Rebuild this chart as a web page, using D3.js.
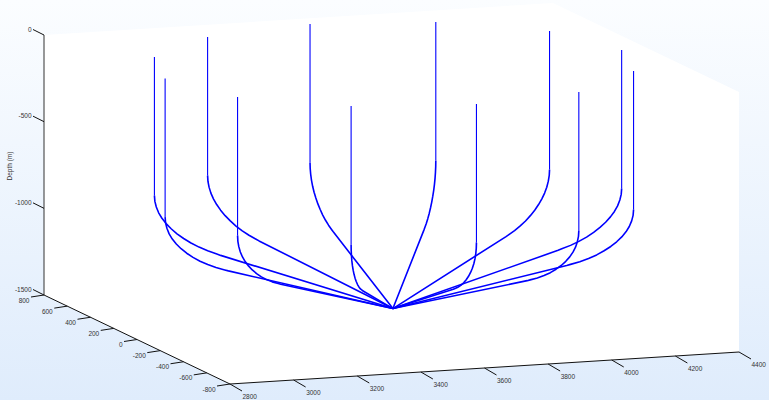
<!DOCTYPE html>
<html>
<head>
<meta charset="utf-8">
<script src="https://cdnjs.cloudflare.com/ajax/libs/d3/7.8.5/d3.min.js"></script>
<style>html,body{margin:0;padding:0;background:#fff}svg{display:block}</style>
</head>
<body>
<svg id="c" width="769" height="400"></svg>
<script>
// Data
const wellX = [2979, 2884, 3243, 2978, 3603, 3241, 3964, 3601, 4228, 3955, 4318, 4229];
const wellY = [340, -12, 605, -378, 709, -635, 615, -728, 359, -640, -15, -361];
const targetX = 3600, targetY = -12, targetZ = -1410, reach = 720;
const profileDepart = [0, 0, 1.4, 5.7, 12.8, 22.7, 35.3, 50.5, 68.2, 88.2, 110.4, 134.7, 160.8, 188.5, 200, 720];
const profileDepth = [0, -800, -833, -865, -898, -929, -959, -988, -1016, -1042, -1067, -1089, -1109, -1126, -1133, -1410];
const xTicks = [2800, 3000, 3200, 3400, 3600, 3800, 4000, 4200, 4400];
const yTicks = [800, 600, 400, 200, 0, -200, -400, -600, -800];
const zTicks = [0, -500, -1000, -1500];
const zLabel = "Depth (m)";

// Projection from three linear scales
const xToSx = d3.scaleLinear().domain([2800, 4400]).range([0, 509]);
const xToSy = d3.scaleLinear().domain([2800, 4400]).range([0, -32]);
const yToSx = d3.scaleLinear().domain([-800, 800]).range([230, 44]);
const yToSy = d3.scaleLinear().domain([-800, 800]).range([384, 295]);
const zToSy = d3.scaleLinear().domain([-1500, 0]).range([0, -260]);
const px = (X, Y) => xToSx(X) + yToSx(Y);
const py = (X, Y, Z) => xToSy(X) + yToSy(Y) + zToSy(Z);

const svg = d3.select("#c");
const defs = svg.append("defs");
const grad = defs.append("linearGradient").attr("id", "bg").attr("x1", 0).attr("y1", 0).attr("x2", 0).attr("y2", 1);
grad.append("stop").attr("offset", "0%").attr("stop-color", "#fbfdff");
grad.append("stop").attr("offset", "100%").attr("stop-color", "#dfecfc");
svg.append("rect").attr("width", 769).attr("height", 400).attr("fill", "url(#bg)");

// White box silhouette
const xMin = 2800, xMax = 4400, yMin = -800, yMax = 800, zMin = -1500, zMax = 0;
const pane = [
  [xMin, yMax, zMax], [xMax, yMax, zMax], [xMax, yMin, zMax],
  [xMax, yMin, zMin], [xMin, yMin, zMin], [xMin, yMax, zMin]
];
svg.append("polygon")
  .attr("points", pane.map(p => [px(p[0], p[1]), py(p[0], p[1], p[2])].join(",")).join(" "))
  .attr("fill", "#fff");

// Wells
const line = d3.line().x(d => d[0]).y(d => d[1]);
const wells = svg.append("g").attr("fill", "none").attr("stroke", "#0000ff").attr("stroke-linejoin", "round");
wellX.forEach((wx, i) => {
  const wy = wellY[i];
  const pts = profileDepart.map((h, k) => {
    const f = h / reach;
    const X = wx + (targetX - wx) * f;
    const Y = wy + (targetY - wy) * f;
    return [px(X, Y), py(X, Y, profileDepth[k])];
  });
  wells.append("path").attr("d", line(pts.slice(0, 2))).attr("stroke-width", 1.1);
  wells.append("path").attr("d", line(pts.slice(1))).attr("stroke-width", 1.6);
});

// Axes
const axes = svg.append("g").attr("fill", "none").attr("stroke-width", 1);
const ends = [
  [[xMin, yMax, zMax], [xMin, yMax, zMin], "#333"],
  [[xMin, yMax, zMin], [xMin, yMin, zMin], "#111"],
  [[xMin, yMin, zMin], [xMax, yMin, zMin], "#111"]
];
ends.forEach(e => axes.append("line")
  .attr("x1", px(e[0][0], e[0][1])).attr("y1", py(e[0][0], e[0][1], e[0][2]))
  .attr("x2", px(e[1][0], e[1][1])).attr("y2", py(e[1][0], e[1][1], e[1][2]))
  .attr("stroke", e[2]));

const labels = svg.append("g").attr("font-family", "'Liberation Sans', Arial, sans-serif")
  .attr("font-size", 6.5).attr("fill", "#333");

function tick(x0, y0, dx, dy, lx, ly, anchor, text) {
  axes.append("line").attr("x1", x0).attr("y1", y0).attr("x2", x0 + dx).attr("y2", y0 + dy).attr("stroke", "#111");
  labels.append("text").attr("x", x0 + lx).attr("y", y0 + ly).attr("text-anchor", anchor).text(text);
}
xTicks.forEach(v => tick(px(v, yMin), py(v, yMin, zMin), 12, 7, 12.5, 14.5, "start", String(v)));
yTicks.forEach(v => tick(px(xMin, v), py(xMin, v, zMin), -13, 2, -14.5, 7.5, "end", String(v)));
zTicks.forEach(v => tick(px(xMin, yMax), py(xMin, yMax, v), -11, -5.5, -12.5, -3.5, "end", String(v)));

labels.append("text").attr("transform", "translate(11.5,166) rotate(-90)").attr("text-anchor", "middle").text(zLabel);
</script>
</body>
</html>
